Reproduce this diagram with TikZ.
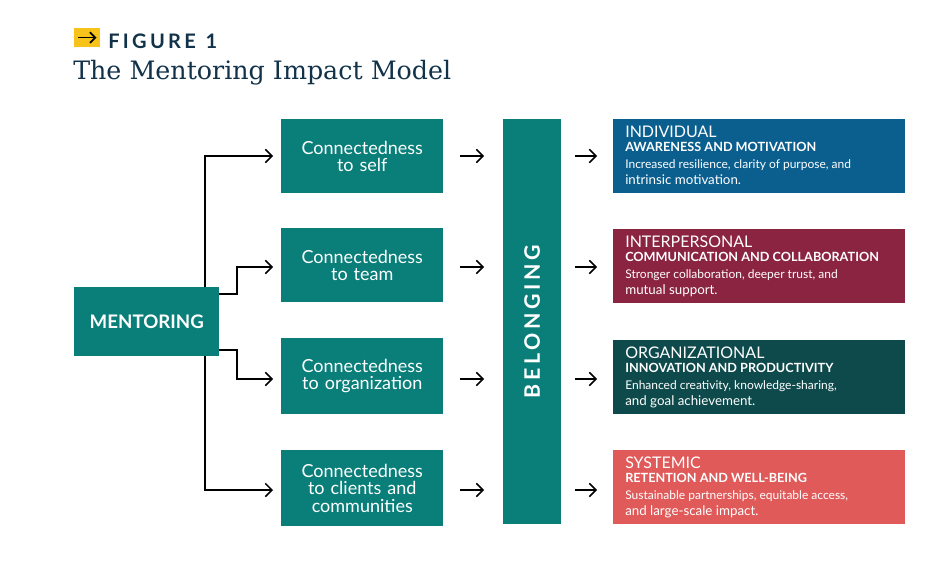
\documentclass[tikz,border=0pt]{standalone}
\usepackage{fontspec}
\setmainfont{Lato}
\newfontfamily\titlefont{DejaVu Serif}
\usetikzlibrary{arrows.meta}
\definecolor{teal1}{HTML}{0A7F7A}
\definecolor{blue1}{HTML}{0B5F8F}
\definecolor{maroon1}{HTML}{8B2440}
\definecolor{dteal}{HTML}{0E4A4C}
\definecolor{coral1}{HTML}{E05A5A}
\definecolor{navy1}{HTML}{12324A}
\definecolor{yell}{HTML}{F7C21A}
\newcommand\hA{\fontsize{12}{13}\selectfont}
\newcommand\hB{\fontsize{9.5}{9.5}\bfseries\selectfont}
\newcommand\hC{\fontsize{9}{9.5}\mdseries\selectfont}
\begin{document}
\begin{tikzpicture}[x=0.75pt,y=-0.75pt,
  box/.style={fill=teal1,text=white,inner sep=0pt,anchor=north west,align=center,font=\fontsize{13.5}{13}\selectfont},
  rbox/.style={inner sep=0pt,anchor=north west,minimum width=219pt,minimum height=55.5pt},
  rtxt/.style={anchor=north west,inner sep=0pt,text=white,align=left},
  arr/.style={-{Straight Barb[length=5pt,width=10pt]},line width=1.1pt,black},
  con/.style={-{Straight Barb[length=5pt,width=10pt]},line width=1.1pt,black}]
\useasboundingbox[fill=white] (0,0) rectangle (930,581);
% header
\node[fill=yell,minimum width=19.5pt,minimum height=14pt,inner sep=0pt,anchor=north west] (ico) at (74,28) {};
\draw[line width=1.3pt,-{Straight Barb[length=4pt,width=8pt]}] ([xshift=3pt]ico.west) -- ([xshift=-3pt]ico.east);
\node[anchor=west,text=navy1,font=\fontsize{15}{15}\bfseries\selectfont,inner sep=0pt] (fig) at (108,41) {F\,I\,G\,U\,R\,E\ \ 1};
\node[anchor=west,text=navy1,font=\titlefont\fontsize{19}{19}\selectfont,inner sep=0pt] (title) at (73,73) {The Mentoring Impact Model};
% mentoring
\node[box,minimum width=108.75pt,minimum height=51.75pt,font=\fontsize{14}{14}\bfseries\selectfont] (m) at (74,287) {MENTORING};
% left boxes
\node[box,text width=121.5pt,minimum height=55.5pt] (c1) at (281,119) {Connectedness\\to self};
\node[box,text width=121.5pt,minimum height=55.5pt] (c2) at (281,228) {Connectedness\\to team};
\node[box,text width=121.5pt,minimum height=57pt] (c3) at (281,338) {Connectedness\\to organization};
\node[box,text width=121.5pt,minimum height=57pt] (c4) at (281,450) {Connectedness\\to clients and\\communities};
% belonging
\node[fill=teal1,inner sep=0pt,anchor=north west,minimum width=43.5pt,minimum height=303.75pt] (b) at (503,119) {};
\node[rotate=90,text=white,font=\fontsize{16}{16}\bfseries\selectfont] (bt) at (b.center) {B\,E\,L\,O\,N\,G\,I\,N\,G};
% right boxes
\node[rbox,fill=blue1] (r1) at (613,119) {};
\node[rtxt] (r1t) at (625,126) {\hA INDIVIDUAL\\[-2pt]\hB AWARENESS AND MOTIVATION\\[1pt]\hC Increased resilience, clarity of purpose, and\\intrinsic motivation.};
\node[rbox,fill=maroon1] (r2) at (613,229) {};
\node[rtxt] (r2t) at (625,236) {\hA INTERPERSONAL\\[-2pt]\hB COMMUNICATION AND COLLABORATION\\[1pt]\hC Stronger collaboration, deeper trust, and\\mutual support.};
\node[rbox,fill=dteal] (r3) at (613,340) {};
\node[rtxt] (r3t) at (625,347) {\hA ORGANIZATIONAL\\[-2pt]\hB INNOVATION AND PRODUCTIVITY\\[1pt]\hC Enhanced creativity, knowledge-sharing,\\and goal achievement.};
\node[rbox,fill=coral1] (r4) at (613,450) {};
\node[rtxt] (r4t) at (625,457) {\hA SYSTEMIC\\[-2pt]\hB RETENTION AND WELL-BEING\\[1pt]\hC Sustainable partnerships, equitable access,\\and large-scale impact.};
% connectors
\coordinate (e1) at (273,156); \coordinate (e2) at (273,267);
\coordinate (e3) at (273,379); \coordinate (e4) at (273,490);
\coordinate (s1) at (205,287); \coordinate (s4) at (205,356);
\coordinate (s2) at (219,294); \coordinate (s3) at (219,350);
\draw[con] (s1) -- (205,156) -- (e1);
\draw[con] (s2) -- (237,294) -- (237,267) -- (e2);
\draw[con] (s3) -- (237,350) -- (237,379) -- (e3);
\draw[con] (s4) -- (205,490) -- (e4);
\foreach \y/\n in {156/1,267/2,379/3,490/4}{
  \draw[arr] (460,\y) -- (484,\y);
  \draw[arr] (575,\y) -- (597,\y);}
\end{tikzpicture}
\end{document}
